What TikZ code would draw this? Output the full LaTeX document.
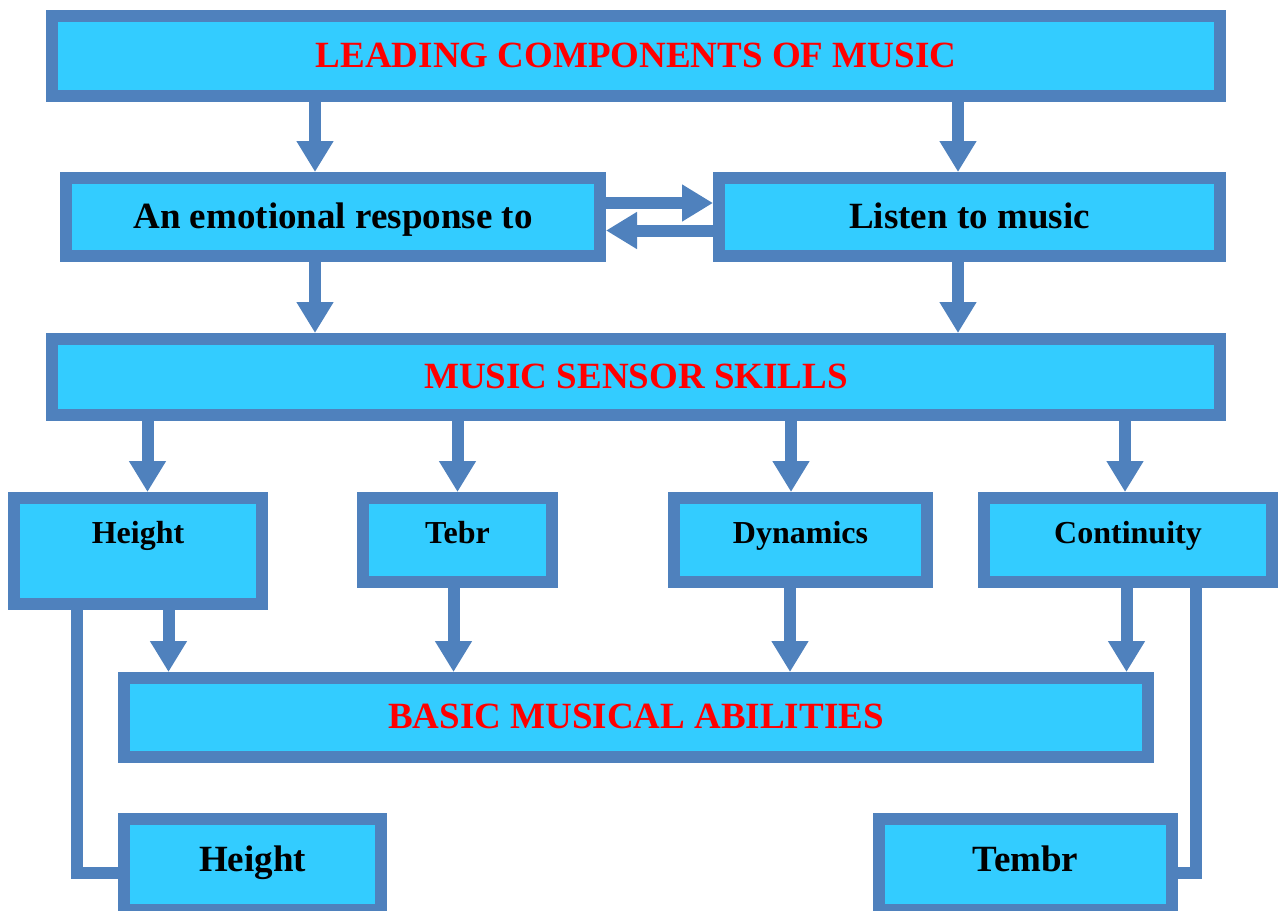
\documentclass[tikz,border=0pt]{standalone}
\usepackage{fontspec}
\setmainfont{Liberation Serif}
\usepackage{tikz}
\usetikzlibrary{arrows.meta, positioning, calc}
\definecolor{boxblue}{HTML}{4F81BD}
\definecolor{boxcyan}{HTML}{33CCFF}
\tikzset{
  % --- Khung ------------------------------------------------
  box/.style={draw=boxblue, fill=boxcyan, line width=6pt, inner sep=0pt,
    align=center, font=\fontsize{18.5}{22}\selectfont\bfseries,
    text height=13pt, text depth=2pt},
  headbox/.style={box, text=red},
  midbox/.style={box, text=black},
  skillbox/.style={box, text=black, font=\fontsize{16}{19}\selectfont\bfseries,
    text height=11pt, text depth=8pt},
  % --- Mui ten ----------------------------------------------
  arr/.style={draw=boxblue, line width=6pt,
    -{Triangle[width=17.5pt, length=15.5pt]}},
  link/.style={draw=boxblue, line width=6pt}
}
\begin{document}
\begin{tikzpicture}[x=0.5pt, y=-0.5pt]
  \useasboundingbox (0,0) rectangle (1278,910);

  % --- Hang tren ---------------------------------------------------
  \node[headbox, minimum width=584pt, minimum height=40pt] (lead) at (636,56) {LEADING COMPONENTS OF MUSIC};
  \node[midbox, minimum width=267pt, minimum height=39pt] (emo) at (333,217) {An emotional response to};
  \node[midbox, minimum width=250.5pt, minimum height=39pt] (listen) at (969.5,217) {Listen to music};
  \node[headbox, minimum width=584pt, minimum height=38pt] (sensor) at (636,377) {MUSIC SENSOR SKILLS};

  % --- Cac ky nang -------------------------------------------------
  \node[skillbox, minimum width=124pt, minimum height=53pt, text depth=19pt] (height) at (138,551) {Height};
  \node[skillbox, minimum width=94.5pt, minimum height=42pt] (tebr) at (457.5,540) {Tebr};
  \node[skillbox, minimum width=126.5pt, minimum height=42pt] (dyn) at (800.5,540) {Dynamics};
  \node[skillbox, minimum width=144pt, minimum height=42pt] (cont) at (1128,540) {Continuity};

  \node[headbox, minimum width=512pt, minimum height=39.5pt] (basic) at (636,717.5) {BASIC MUSICAL ABILITIES};

  % --- Hang duoi ---------------------------------------------------
  \node[midbox, minimum width=128.5pt, minimum height=45.5pt, text depth=6.5pt] (heightB) at (252.5,864.5) {Height};
  \node[midbox, minimum width=146.5pt, minimum height=45.5pt, text depth=6.5pt] (tembr) at (1025.5,864.5) {Tembr};

  % --- Mui ten -----------------------------------------------------
  \draw[arr] ([xshift=-9pt]emo.north |- lead.south) -- ([xshift=-9pt]emo.north);
  \draw[arr] ([xshift=-5.75pt]listen.north |- lead.south) -- ([xshift=-5.75pt]listen.north);
  \draw[arr] ([yshift=7pt]emo.east) -- ([yshift=7pt]listen.west);
  \draw[arr] ([yshift=-6.75pt]listen.west) -- ([yshift=-6.75pt]emo.east);
  \draw[arr] ([xshift=-9pt]emo.south) -- ([xshift=-9pt]emo.south |- sensor.north);
  \draw[arr] ([xshift=-5.75pt]listen.south) -- ([xshift=-5.75pt]listen.south |- sensor.north);

  \draw[arr] ([xshift=4.75pt]height.north |- sensor.south) -- ([xshift=4.75pt]height.north);
  \draw[arr] (tebr.north |- sensor.south) -- (tebr.north);
  \draw[arr] ([xshift=-4.75pt]dyn.north |- sensor.south) -- ([xshift=-4.75pt]dyn.north);
  \draw[arr] ([xshift=-1.5pt]cont.north |- sensor.south) -- ([xshift=-1.5pt]cont.north);

  \draw[arr] ([xshift=15.25pt]height.south) -- ([xshift=15.25pt]height.south |- basic.north);
  \draw[arr] ([xshift=-2pt]tebr.south) -- ([xshift=-2pt]tebr.south |- basic.north);
  \draw[arr] ([xshift=-5.25pt]dyn.south) -- ([xshift=-5.25pt]dyn.south |- basic.north);
  \draw[arr] ([xshift=-0.75pt]cont.south) -- ([xshift=-0.75pt]cont.south |- basic.north);

  % --- Duong noi xuong hang duoi -----------------------------------
  \draw[link] ([xshift=-30.5pt]height.south) |- ([yshift=-4.25pt]heightB.west);
  \draw[link] ([xshift=34pt]cont.south) |- ([yshift=-4.25pt]tembr.east);

\end{tikzpicture}
\end{document}
